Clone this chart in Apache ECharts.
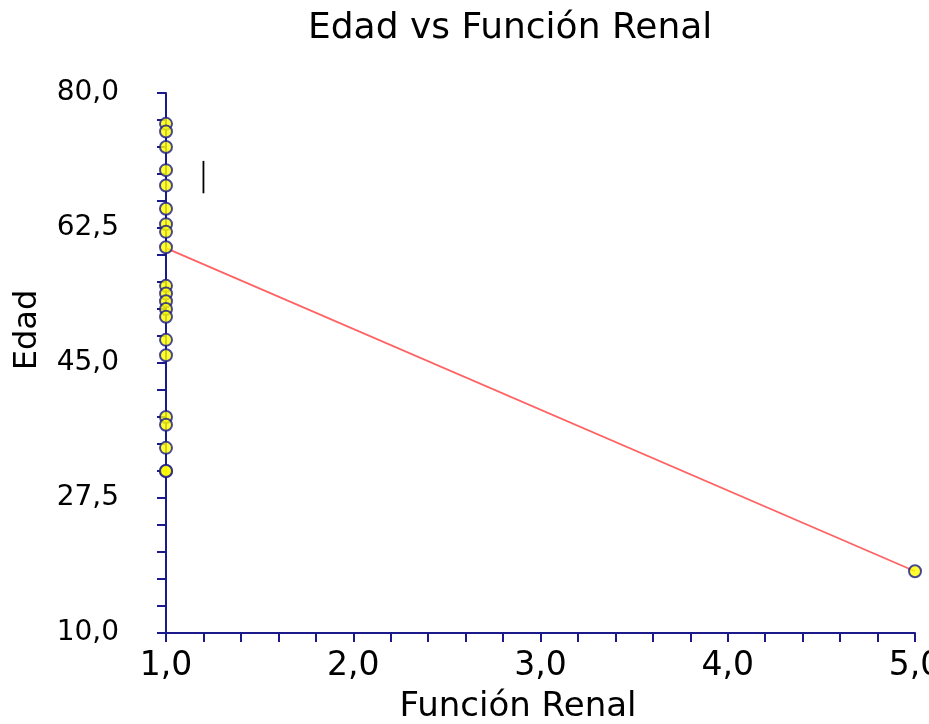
<!DOCTYPE html>
<html>
<head>
<meta charset="utf-8">
<script src="https://cdn.jsdelivr.net/npm/echarts@6/dist/echarts.min.js"></script>
<style>html,body{margin:0;padding:0;background:#fff}#c{width:929px;height:724px}</style>
</head>
<body>
<div id="c"></div>
<script>
// Data
const titleText = "Edad vs Función Renal";
const xName = "Función Renal";
const yName = "Edad";
// Función Renal values for each point
const funcionRenal = [1,1,1,1,1,1,1,1,1,1,1,1,1,1,1,1,1,1,1,1,1,5];
// Edad values for each point
const edad = [76,75,73,70,68,65,63,62,60,55,54,53,52,51,48,46,38,37,34,31,31,18];
// Regression line end points
const regX = [1, 5];
const regY = [59.9, 18];
// Small vertical marker
const markX = [1.2, 1.2];
const markY = [71.2, 67.0];
const xTicks = [1, 2, 3, 4, 5];
const yTicks = [10, 27.5, 45, 62.5, 80];

const FONT = "DejaVu Sans";
const AXIS = "#1a1a8c";
const fmt = v => v.toFixed(1).replace('.', ',');

const chart = echarts.init(document.getElementById('c'), null, {renderer: 'canvas'});
chart.setOption({
  animation: false,
  backgroundColor: '#ffffff',
  title: {
    text: titleText, left: 303, top: 6,
    textStyle: {fontFamily: FONT, fontSize: 36, fontWeight: 'normal', color: '#000'}
  },
  grid: {left: 166, right: 14, top: 93, bottom: 91, containLabel: false, outerBoundsMode: 'none'},
  xAxis: {
    type: 'value', min: xTicks[0], max: xTicks[xTicks.length - 1], interval: 1,
    name: xName, nameLocation: 'middle', nameGap: 57,
    nameTextStyle: {fontFamily: FONT, fontSize: 34, color: '#000', padding: [0, 45, 0, 0]},
    axisLine: {lineStyle: {color: AXIS, width: 2}},
    axisTick: {length: 9, lineStyle: {color: AXIS, width: 2}},
    minorTick: {show: true, splitNumber: 5, length: 9, lineStyle: {color: AXIS, width: 2}},
    splitLine: {show: false},
    axisLabel: {fontFamily: FONT, fontSize: 33, color: '#000', margin: 17, formatter: fmt, hideOverlap: false}
  },
  yAxis: {
    type: 'value', min: yTicks[0], max: yTicks[yTicks.length - 1], interval: 17.5,
    name: yName, nameLocation: 'middle', nameGap: 122, nameRotate: 90,
    nameTextStyle: {fontFamily: FONT, fontSize: 32, color: '#000', padding: [0, 0, 0, 66]},
    axisLine: {lineStyle: {color: AXIS, width: 2}},
    axisTick: {length: 9, lineStyle: {color: AXIS, width: 2}},
    minorTick: {show: true, splitNumber: 5, length: 9, lineStyle: {color: AXIS, width: 2}},
    splitLine: {show: false},
    axisLabel: {fontFamily: FONT, fontSize: 28, color: '#000', margin: 47, formatter: fmt}
  },
  series: [
    {
      type: 'line', data: regX.map((x, i) => [x, regY[i]]), symbol: 'none', z: 3,
      lineStyle: {color: '#ff6262', width: 1.8}
    },
    {
      type: 'line', data: markX.map((x, i) => [x, markY[i]]), symbol: 'none', z: 3,
      lineStyle: {color: '#000', width: 1.8}
    },
    {
      type: 'scatter', data: funcionRenal.map((x, i) => [x, edad[i]]), symbolSize: 12, z: 4,
      itemStyle: {color: '#ffff00', borderColor: '#1a1a8c', borderWidth: 2}
    }
  ]
});
</script>
</body>
</html>
